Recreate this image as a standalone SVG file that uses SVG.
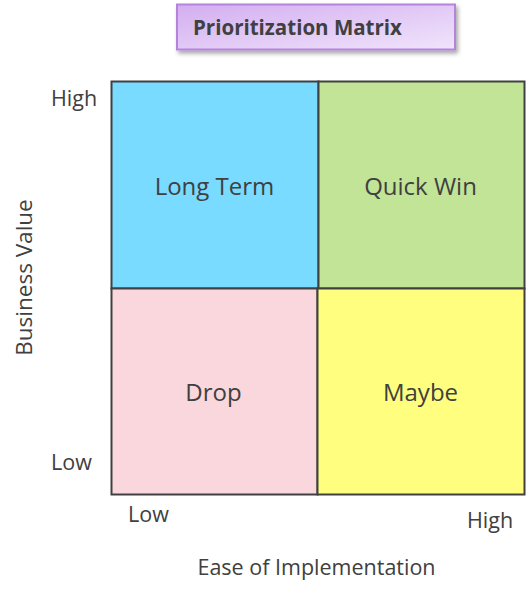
<svg xmlns="http://www.w3.org/2000/svg" width="530" height="597" viewBox="0 0 530 597">
<defs>
<linearGradient id="tg" x1="0" y1="0" x2="1" y2="1">
<stop offset="0" stop-color="#d3aef0"/>
<stop offset="1" stop-color="#f0e4fb"/>
</linearGradient>
<filter id="sh" x="-10%" y="-30%" width="120%" height="160%">
<feDropShadow dx="2" dy="3" stdDeviation="2" flood-color="#000" flood-opacity="0.35"/>
</filter>
<style>
.q{stroke:#404040;stroke-width:2}
.t{font-family:"Open Sans","Liberation Sans",Arial,sans-serif;fill:#404040}
.ql{font-size:24px;text-anchor:middle}
.ax{font-size:21.5px}
</style>
</defs>
<g id="title">
<rect x="177" y="4.5" width="278" height="45" fill="url(#tg)" stroke="#b583dc" stroke-width="2" filter="url(#sh)"/>
<text class="t" x="193" y="34.5" font-size="20.5" font-weight="bold">Prioritization Matrix</text>
</g>
<g id="long-term">
<rect class="q" x="111.5" y="81.5" width="207" height="207" fill="#78dbff"/>
<text class="t ql" x="214.5" y="194.5">Long Term</text>
</g>
<g id="quick-win">
<rect class="q" x="318.5" y="81.5" width="206" height="207" fill="#c1e497"/>
<text class="t ql" x="420.5" y="194.5">Quick Win</text>
</g>
<g id="drop">
<rect class="q" x="111.5" y="288.5" width="206" height="206" fill="#fad7dc"/>
<text class="t ql" x="213.5" y="401">Drop</text>
</g>
<g id="maybe">
<rect class="q" x="317.5" y="288.5" width="207" height="206" fill="#fffe7e"/>
<text class="t ql" x="420.5" y="401">Maybe</text>
</g>
<g id="axes">
<text class="t ax" x="51" y="106">High</text>
<text class="t ax" x="51" y="470">Low</text>
<text class="t ax" x="128" y="522">Low</text>
<text class="t ax" x="467" y="528">High</text>
<text class="t ax" x="316.5" y="575" text-anchor="middle">Ease of Implementation</text>
<text class="t" font-size="22.5" transform="translate(32,277.5) rotate(-90)" text-anchor="middle">Business Value</text>
</g>
</svg>
